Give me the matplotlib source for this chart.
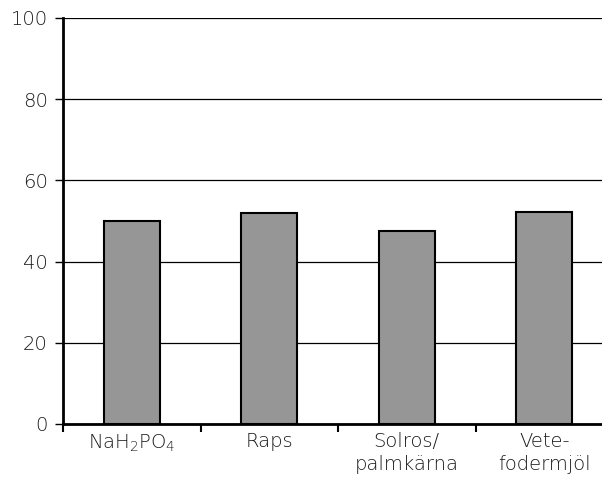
import matplotlib
matplotlib.use("Agg")
import matplotlib.pyplot as plt
import numpy as np

# data
categories = [r"NaH$_2$PO$_4$", "Raps", "Solros/\npalmkärna", "Vete-\nfodermjöl"]
values = [50.0, 52.0, 47.5, 52.3]
yticks = [0, 20, 40, 60, 80, 100]

plt.rcParams["font.family"] = "DejaVu Sans"
plt.rcParams["font.weight"] = "light"
plt.rcParams["mathtext.fontset"] = "custom"
plt.rcParams["mathtext.rm"] = "DejaVu Sans:light"
plt.rcParams["mathtext.it"] = "DejaVu Sans:light"

fig = plt.figure(figsize=(6.02, 4.84), dpi=100)
ax = fig.add_axes([0.1047, 0.124, 0.8953, 0.839])

x = np.arange(len(categories))
ax.bar(x, values, width=0.41, color="#969696", edgecolor="black", linewidth=1.5, zorder=3)

ax.set_yticks(yticks)
ax.yaxis.grid(True, color="black", linewidth=0.9)
ax.set_axisbelow(True)

ax.set_xticks(x)
ax.set_xticklabels(categories, linespacing=1.25)
ax.set_xticks(np.arange(len(categories) + 1) - 0.5, minor=True)
ax.set_ylim(0, 100)
ax.set_xlim(-0.5, 3.42)
ax.tick_params(axis="x", which="major", length=0, pad=6, labelsize=14, labelcolor="#1a1a1a")
ax.tick_params(axis="x", which="minor", length=6, width=1.5, direction="out")
ax.tick_params(axis="y", length=6, width=1, labelsize=14, labelcolor="#1a1a1a", pad=5)

for s in ["top", "right"]:
    ax.spines[s].set_visible(False)
ax.spines["left"].set_linewidth(2)
ax.spines["bottom"].set_linewidth(2)

fig.savefig("out.png", dpi=100)
